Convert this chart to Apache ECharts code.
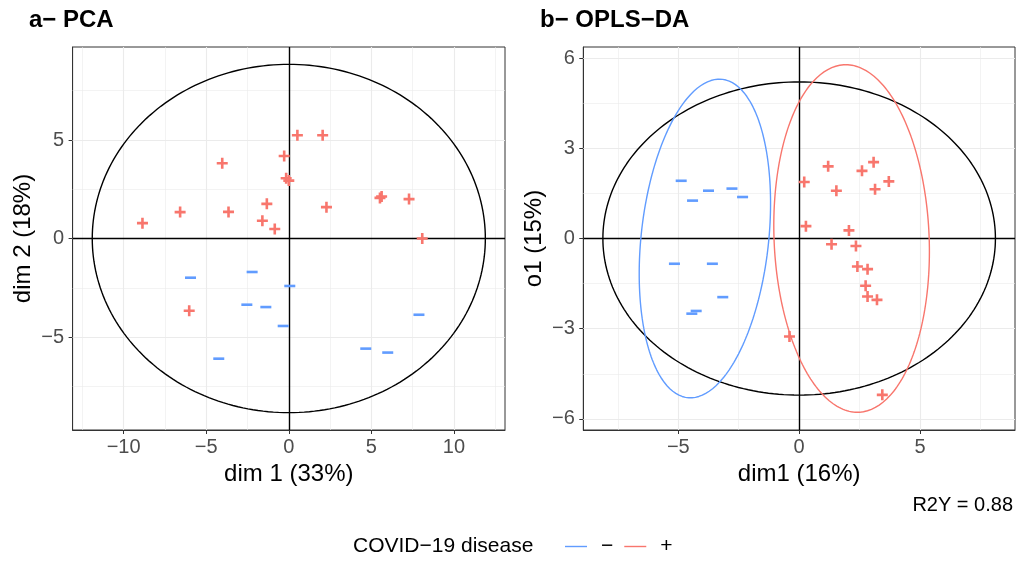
<!DOCTYPE html>
<html>
<head>
<meta charset="utf-8">
<script src="https://cdn.jsdelivr.net/npm/echarts@6/dist/echarts.min.js"></script>
<style>
html,body{margin:0;padding:0;background:#fff;}
#chart{width:1017px;height:561px;}
</style>
</head>
<body>
<div id="chart"></div>
<script>
// ---------------- data ----------------
// Panel a (PCA): COVID-19 "+" samples [dim1, dim2]
const pcaPositive = [
  [-8.86,0.78],[-6.58,1.34],[-4.03,3.82],[-3.65,1.35],[-1.33,1.76],[-1.60,0.90],
  [-0.85,0.48],[-0.28,4.19],[-0.16,3.06],[0.00,2.94],[0.52,5.24],[2.05,5.24],
  [2.28,1.59],[5.52,2.06],[5.62,2.13],[7.28,2.00],[8.08,0.00],[-6.03,-3.67]
];
// Panel a (PCA): COVID-19 "−" samples
const pcaNegative = [
  [-5.95,-1.99],[-2.22,-1.70],[0.06,-2.41],[-2.54,-3.36],[-1.39,-3.48],
  [-0.34,-4.44],[-4.24,-6.10],[4.66,-5.59],[5.99,-5.79],[7.88,-3.87]
];
// Panel b (OPLS-DA): "+" samples [dim1, o1]
const oplsPositive = [
  [1.20,2.40],[2.60,2.25],[3.08,2.54],[0.21,1.88],[1.54,1.59],[3.14,1.64],
  [3.71,1.90],[0.28,0.41],[2.06,0.27],[1.34,-0.19],[2.35,-0.25],[2.41,-0.93],
  [2.83,-1.02],[2.75,-1.57],[2.83,-1.93],[3.22,-2.04],[-0.40,-3.26],[3.44,-5.20]
];
// Panel b (OPLS-DA): "−" samples
const oplsNegative = [
  [-4.88,1.92],[-4.41,1.26],[-3.75,1.59],[-2.78,1.66],[-2.34,1.38],
  [-5.16,-0.84],[-3.59,-0.84],[-3.16,-1.95],[-4.26,-2.41],[-4.44,-2.50]
];
// Ellipses: [centerX, centerY, u_x, u_y, v_x, v_y] (conjugate semi-diameters)
const pcaEllipse      = [0, 0, 0, 8.84, 11.9, 0];
const oplsEllipse     = [0, 0, 0, 5.21, 8.12, 0];
const oplsNegEllipse  = [-3.9, 0.0, 0.6, 5.3, 2.65, 0];
const oplsPosEllipse  = [2.17, 0.0, -0.24, 5.78, 3.21, 0];

// Axis ranges and ticks
const pcaXRange = [-13.09, 13.09], pcaYRange = [-9.72, 9.72];
const oplsXRange = [-8.93, 8.93], oplsYRange = [-6.37, 6.37];
const pcaXTicks = [-10, -5, 0, 5, 10], pcaXMinor = [-12.5, -7.5, -2.5, 2.5, 7.5, 12.5];
const pcaYTicks = [-5, 0, 5], pcaYMinor = [-7.5, -2.5, 2.5, 7.5];
const oplsXTicks = [-5, 0, 5], oplsXMinor = [-7.5, -2.5, 2.5, 7.5];
const oplsYTicks = [-6, -3, 0, 3, 6], oplsYMinor = [-4.5, -1.5, 1.5, 4.5];

// ---------------- helpers ----------------
const FONT = '"Liberation Sans", Arial, Helvetica, sans-serif';
const RED = '#F8766D', BLUE = '#619CFF';
const PLUS = 'path://M4.2,0H6.8V4.2H11V6.8H6.8V11H4.2V6.8H0V4.2H4.2Z';
const fmt = v => String(v).replace('-', '\u2212');

function ellipsePts(e) {
  const pts = [];
  const n = 240;
  for (let i = 0; i <= n; i++) {
    const t = 2 * Math.PI * i / n;
    pts.push([e[0] + e[2] * Math.cos(t) + e[4] * Math.sin(t),
              e[1] + e[3] * Math.cos(t) + e[5] * Math.sin(t)]);
  }
  return pts;
}

function gridSeries(idx, xMaj, xMin, yMaj, yMin) {
  const d = [];
  xMin.forEach(v => d.push({xAxis: v, lineStyle: {width: 0.6}}));
  yMin.forEach(v => d.push({yAxis: v, lineStyle: {width: 0.6}}));
  xMaj.forEach(v => d.push({xAxis: v, lineStyle: {width: 1.1}}));
  yMaj.forEach(v => d.push({yAxis: v, lineStyle: {width: 1.1}}));
  return {
    type: 'line', xAxisIndex: idx, yAxisIndex: idx, data: [[0, 0]],
    showSymbol: false, lineStyle: {opacity: 0}, silent: true, z: 1,
    markLine: {
      silent: true, symbol: ['none', 'none'], label: {show: false}, z: 1,
      lineStyle: {color: '#EBEBEB', type: 'solid'}, emphasis: {disabled: true},
      data: d
    }
  };
}

function zeroSeries(idx) {
  return {
    type: 'line', xAxisIndex: idx, yAxisIndex: idx, data: [[0, 0]],
    showSymbol: false, lineStyle: {opacity: 0}, silent: true, z: 2,
    markLine: {
      silent: true, symbol: ['none', 'none'], label: {show: false}, z: 2,
      lineStyle: {color: '#000', type: 'solid', width: 1.4}, emphasis: {disabled: true},
      data: [{xAxis: 0}, {yAxis: 0}]
    }
  };
}

function ellipseSeries(idx, e, color) {
  return {
    type: 'line', xAxisIndex: idx, yAxisIndex: idx, data: ellipsePts(e),
    showSymbol: false, smooth: false, silent: true, z: 3,
    lineStyle: {color: color, width: 1.4}
  };
}

function pointSeries(idx, name, data, color) {
  return {
    type: 'scatter', name: name, xAxisIndex: idx, yAxisIndex: idx, data: data,
    symbol: name === '+' ? PLUS : 'rect',
    symbolSize: name === '+' ? 11 : [11, 2.6],
    itemStyle: {color: color, opacity: 1}, z: 4, silent: true
  };
}

function xAxisCfg(idx, range, ticks, name) {
  return {
    gridIndex: idx, type: 'value', min: range[0], max: range[1],
    axisLine: {show: true, onZero: false, lineStyle: {color: '#333', width: 1}},
    axisTick: {show: true, length: 4, customValues: ticks, lineStyle: {color: '#333', width: 1}},
    axisLabel: {customValues: ticks, color: '#4D4D4D', fontSize: 20, fontFamily: FONT, margin: 7, formatter: fmt},
    splitLine: {show: false}, minorTick: {show: false}, minorSplitLine: {show: false},
    name: name, nameLocation: 'middle', nameGap: 31.5,
    nameTextStyle: {fontSize: 24, color: '#000', fontFamily: FONT}
  };
}
function yAxisCfg(idx, range, ticks, name, gap) {
  return {
    gridIndex: idx, type: 'value', min: range[0], max: range[1],
    axisLine: {show: true, onZero: false, lineStyle: {color: '#333', width: 1}},
    axisTick: {show: true, length: 4, customValues: ticks, lineStyle: {color: '#333', width: 1}},
    axisLabel: {customValues: ticks, color: '#4D4D4D', fontSize: 20, fontFamily: FONT, margin: 8.5, formatter: fmt},
    splitLine: {show: false}, minorTick: {show: false}, minorSplitLine: {show: false},
    name: name, nameLocation: 'middle', nameGap: gap, nameRotate: 90,
    nameTextStyle: {fontSize: 24, color: '#000', fontFamily: FONT}
  };
}

// ---------------- chart ----------------
const chart = echarts.init(document.getElementById('chart'), null, {renderer: 'canvas'});
chart.setOption({
  animation: false,
  backgroundColor: '#fff',
  textStyle: {fontFamily: FONT},
  title: [
    {text: 'a\u2212 PCA', left: 29, top: 8, padding: 0,
     textStyle: {fontSize: 24, fontWeight: 'bold', color: '#000', fontFamily: FONT}},
    {text: 'b\u2212 OPLS\u2212DA', left: 540, top: 8, padding: 0,
     textStyle: {fontSize: 24, fontWeight: 'bold', color: '#000', fontFamily: FONT}},
    {text: 'R2Y = 0.88', right: 4, top: 495, padding: 0,
     textStyle: {fontSize: 20, fontWeight: 'normal', color: '#000', fontFamily: FONT}},
    {text: 'COVID\u221219 disease', left: 353, top: 536, padding: 0,
     textStyle: {fontSize: 21, fontWeight: 'normal', color: '#000', fontFamily: FONT}}
  ],
  legend: {
    left: 565, top: 536, padding: 0, itemGap: 11,
    itemWidth: 22, itemHeight: 1.4, icon: 'rect',
    selectedMode: false,
    textStyle: {fontSize: 21, color: '#000', fontFamily: FONT, padding: [0, 0, 0, 9]},
    data: [
      {name: '\u2212', icon: 'rect', itemStyle: {color: BLUE}},
      {name: '+', icon: 'rect', itemStyle: {color: RED}}
    ]
  },
  grid: [
    {left: 72.6, top: 47, width: 432.4, height: 383, show: true, borderColor: '#333', borderWidth: 1, backgroundColor: 'transparent'},
    {left: 583.3, top: 47, width: 431.7, height: 383, show: true, borderColor: '#333', borderWidth: 1, backgroundColor: 'transparent'}
  ],
  xAxis: [
    xAxisCfg(0, pcaXRange, pcaXTicks, 'dim 1 (33%)'),
    xAxisCfg(1, oplsXRange, oplsXTicks, 'dim1 (16%)')
  ],
  yAxis: [
    yAxisCfg(0, pcaYRange, pcaYTicks, 'dim 2 (18%)', 37),
    yAxisCfg(1, oplsYRange, oplsYTicks, 'o1 (15%)', 36.5)
  ],
  series: [
    gridSeries(0, pcaXTicks, pcaXMinor, pcaYTicks, pcaYMinor),
    gridSeries(1, oplsXTicks, oplsXMinor, oplsYTicks, oplsYMinor),
    zeroSeries(0),
    zeroSeries(1),
    ellipseSeries(0, pcaEllipse, '#000'),
    ellipseSeries(1, oplsEllipse, '#000'),
    ellipseSeries(1, oplsNegEllipse, BLUE),
    ellipseSeries(1, oplsPosEllipse, RED),
    pointSeries(0, '\u2212', pcaNegative, BLUE),
    pointSeries(0, '+', pcaPositive, RED),
    pointSeries(1, '\u2212', oplsNegative, BLUE),
    pointSeries(1, '+', oplsPositive, RED)
  ]
});
</script>
</body>
</html>
